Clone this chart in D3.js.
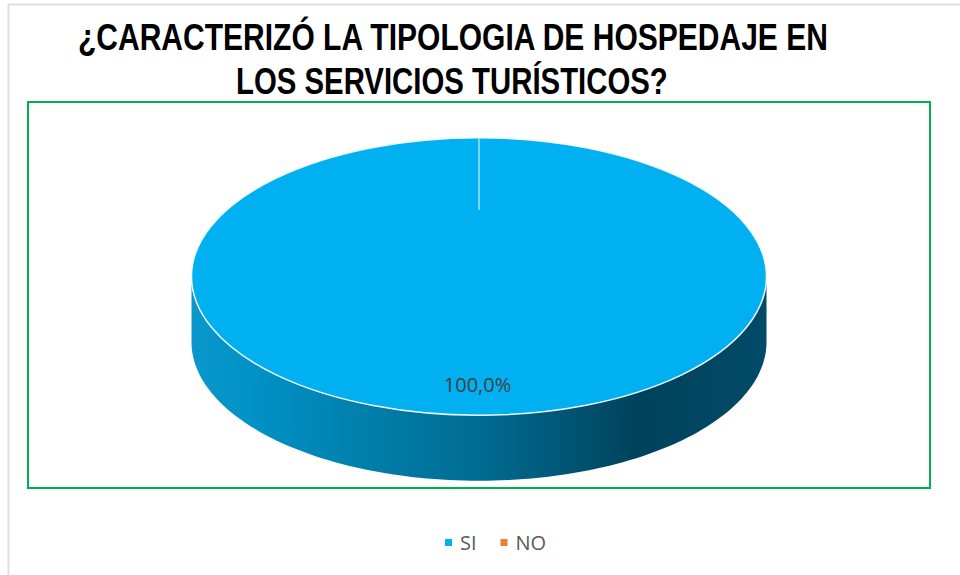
<!DOCTYPE html>
<html><head><meta charset="utf-8">
<script src="https://cdn.jsdelivr.net/npm/d3@7"></script>
<style>html,body{margin:0;padding:0;background:#fff;}svg{display:block;}</style>
</head><body>
<script>
const categories = ["SI", "NO"];
const values = [100, 0];
const colors = ["#00b0f0", "#ed7d31"];
const titleLines = ["¿CARACTERIZÓ LA TIPOLOGIA DE HOSPEDAJE EN", "LOS SERVICIOS TURÍSTICOS?"];

const W = 960, H = 575;
const svg = d3.select("body").append("svg").attr("width", W).attr("height", H);

// outer chart border (light gray)
svg.append("rect").attr("x", 8.5).attr("y", 4.5).attr("width", W).attr("height", H)
  .attr("fill", "none").attr("stroke", "#e0e0e0").attr("stroke-width", 2);

// plot area green border
svg.append("rect").attr("x", 28).attr("y", 102).attr("width", 902).attr("height", 386)
  .attr("fill", "none").attr("stroke", "#00b050").attr("stroke-width", 2);

// title (horizontally condensed to mimic a narrow bold face)
const titleSpec = [{x: 78, y: 50, w: 750}, {x: 236, y: 94, w: 432}];
titleLines.forEach((t, i) => {
  const g = svg.append("g");
  const txt = g.append("text").attr("x", 0).attr("y", 0)
    .attr("font-family", "'Liberation Sans', Arial, sans-serif")
    .attr("font-weight", "bold").attr("font-size", 37).attr("fill", "#000").text(t);
  const len = txt.node().getComputedTextLength();
  g.attr("transform", `translate(${titleSpec[i].x},${titleSpec[i].y}) scale(${titleSpec[i].w / len},1)`);
});

// 3D pie
const cx = 479, cy = 276.5, rx = 287.5, ry = 138.8, depth = 65.5;
const pie = d3.pie().sort(null).value(d => d)(values);

const defs = svg.append("defs");
const grad = defs.append("linearGradient").attr("id", "sideGrad")
  .attr("gradientUnits", "userSpaceOnUse").attr("x1", cx - rx).attr("x2", cx + rx).attr("y1", 0).attr("y2", 0);
[[0, "#0a98cc"], [0.12, "#0090c3"], [0.5, "#006c92"], [0.78, "#00425c"], [1, "#004b68"]]
  .forEach(([o, c]) => grad.append("stop").attr("offset", o).attr("stop-color", c));

const px = a => cx + rx * Math.sin(a);
const py = a => cy - ry * Math.cos(a);

// side walls (front half only)
pie.forEach((s, i) => {
  if (s.endAngle - s.startAngle <= 0) return;
  const a0 = Math.max(s.startAngle, Math.PI / 2), a1 = Math.min(s.endAngle, 3 * Math.PI / 2);
  if (a1 <= a0) return;
  const n = 120;
  const angs = d3.range(n + 1).map(k => a0 + (a1 - a0) * k / n);
  const top = angs.map(a => [px(a), py(a)]);
  const bot = angs.slice().reverse().map(a => [px(a), py(a) + depth]);
  svg.append("path").attr("d", d3.line()(top.concat(bot)) + "Z")
    .attr("fill", i === 0 ? "url(#sideGrad)" : colors[i]);
});

// top faces
const arc = d3.arc().innerRadius(0).outerRadius(rx);
const topG = svg.append("g").attr("transform", `translate(${cx},${cy}) scale(1,${ry / rx})`);
pie.forEach((s, i) => {
  if (s.endAngle - s.startAngle <= 0) return;
  topG.append("path").attr("d", arc(s)).attr("fill", colors[i])
    .attr("stroke", "#ffffff").attr("stroke-width", 1.5).attr("stroke-opacity", 0.9)
    .attr("vector-effect", "non-scaling-stroke");
});
// slice seam (start of slice)
svg.append("line").attr("x1", px(pie[0].startAngle)).attr("y1", py(pie[0].startAngle))
  .attr("x2", cx).attr("y2", 210).attr("stroke", "#a6e0f8").attr("stroke-width", 1.5);

// data label
const fmt = v => (v).toFixed(1).replace(".", ",") + "%";
const total = d3.sum(values);
svg.append("text").attr("x", 477.5).attr("y", 392).attr("text-anchor", "middle")
  .attr("font-family", "'Open Sans', sans-serif").attr("font-size", 20).attr("fill", "#404040")
  .text(fmt(values[0] / total * 100));

// legend
const legend = svg.append("g").attr("font-family", "'Open Sans', sans-serif").attr("font-size", 20).attr("fill", "#595959");
const legX = [445, 500.5];
categories.forEach((c, i) => {
  legend.append("rect").attr("x", legX[i]).attr("y", 539).attr("width", 7).attr("height", 7).attr("fill", colors[i]);
  legend.append("text").attr("x", legX[i] + 15).attr("y", 550).text(c);
});
</script>
</body></html>
